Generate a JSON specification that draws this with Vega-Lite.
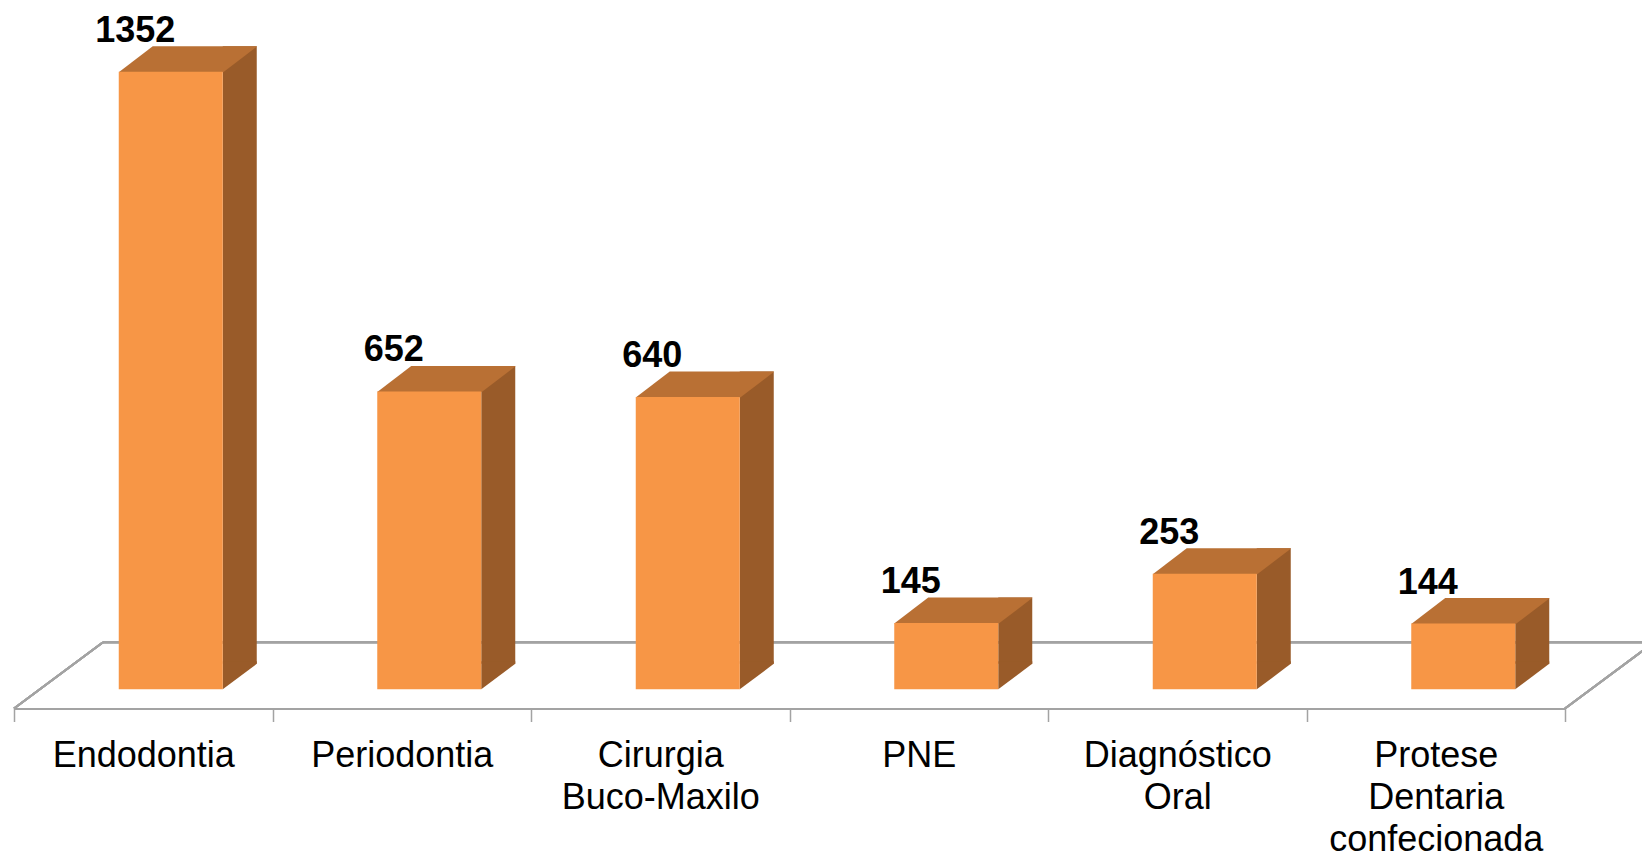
{
  "$schema": "https://vega.github.io/schema/vega-lite/v6.json",
  "autosize": {"type": "none"},
  "padding": {"left": 14, "top": 0, "right": 77, "bottom": 148.5},
  "width": 1551,
  "height": 708.5,
  "background": "white",
  "config": {"view": {"stroke": null}},
  "data": {"values": [
    {"categoria": "Endodontia", "valor": 1352},
    {"categoria": "Periodontia", "valor": 652},
    {"categoria": "Cirurgia Buco-Maxilo", "valor": 640},
    {"categoria": "PNE", "valor": 145},
    {"categoria": "Diagnóstico Oral", "valor": 253},
    {"categoria": "Protese Dentaria confecionada", "valor": 144}
  ]},
  "resolve": {"scale": {"x": "independent"}},
  "layer": [
    {
      "layer": [
        {"mark": {"type": "rule", "color": "#A3A3A3", "strokeWidth": 2},
         "encoding": {
           "x": {"datum": 0, "type": "quantitative", "scale": {"domain": [0, 6], "nice": false, "zero": false}, "axis": null},
           "x2": {"datum": 0.3443},
           "y": {"datum": -42, "type": "quantitative", "scale": {"domain": [-42, 1509], "nice": false, "zero": false}, "axis": null},
           "y2": {"datum": 102.9}
         }},
        {"mark": {"type": "rule", "color": "#A3A3A3", "strokeWidth": 2},
         "encoding": {
           "x": {"datum": 0.3443, "type": "quantitative", "scale": {"domain": [0, 6], "nice": false, "zero": false}, "axis": null},
           "x2": {"datum": 6.3443},
           "y": {"datum": 102.9, "type": "quantitative", "scale": {"domain": [-42, 1509], "nice": false, "zero": false}, "axis": null}
         }},
        {"mark": {"type": "rule", "color": "#A3A3A3", "strokeWidth": 2},
         "encoding": {
           "x": {"datum": 6, "type": "quantitative", "scale": {"domain": [0, 6], "nice": false, "zero": false}, "axis": null},
           "x2": {"datum": 6.3443},
           "y": {"datum": -42, "type": "quantitative", "scale": {"domain": [-42, 1509], "nice": false, "zero": false}, "axis": null},
           "y2": {"datum": 102.9}
         }}
      ]
    },
    {
      "encoding": {
        "x": {
          "field": "categoria", "type": "nominal", "sort": null,
          "scale": {"paddingInner": 0, "paddingOuter": 0},
          "axis": {
            "title": null,
            "labelAngle": 0,
            "labelExpr": "split(datum.label, ' ')",
            "labelFont": "Liberation Sans",
            "labelFontSize": 36,
            "labelColor": "#000000",
            "labelLineHeight": 42,
            "labelPadding": 17,
            "labelLimit": 0,
            "tickBand": "extent",
            "tickSize": 13,
            "tickColor": "#A3A3A3",
            "tickWidth": 1.5,
            "domainColor": "#A3A3A3",
            "domainWidth": 2,
            "zindex": 0
          }
        },
        "y": {"field": "valor", "type": "quantitative", "scale": {"domain": [-42, 1509], "nice": false, "zero": false}, "axis": null}
      },
      "layer": [
        {"mark": {"type": "bar", "color": "#995B29", "width": 34, "xOffset": 96.5, "yOffset": -25.5, "y2Offset": -25.5},
         "encoding": {"y2": {"datum": 0}}},
        {"mark": {"type": "point", "shape": "M79.5,-28L79.5,0L113.5,-25.5L113.5,-28Z", "size": 4, "filled": true, "opacity": 1, "color": "#995B29", "strokeWidth": 0},
         "encoding": {"y": {"datum": 0}}},
        {"mark": {"type": "point", "shape": "M-24.5,0.5L80,0.5L113.5,-25L113.5,-25.5L9.5,-25.5Z", "size": 4, "filled": true, "opacity": 1, "color": "#B97034", "strokeWidth": 0}},
        {"mark": {"type": "bar", "color": "#F79646", "width": 104, "xOffset": 27.5},
         "encoding": {"y2": {"datum": 0}}},
        {"mark": {"type": "text", "font": "Liberation Sans", "fontSize": 36, "fontWeight": "bold", "color": "#000000", "baseline": "alphabetic", "align": "center", "dx": -8, "dy": -30},
         "encoding": {"text": {"field": "valor", "type": "quantitative"}}}
      ]
    }
  ]
}
